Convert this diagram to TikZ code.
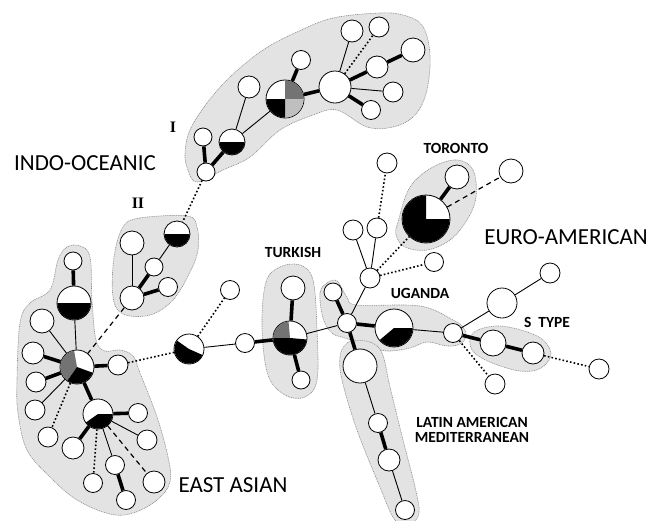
\documentclass[tikz,border=0pt]{standalone}
\usepackage{fontspec}
\setmainfont{Carlito}
\newfontfamily\romana{Liberation Serif}
\tikzset{
  hap/.style={circle, draw=black, fill=white, line width=0.8pt, inner sep=0pt},
  enlace/.style={line width=0.9pt},
  grueso/.style={line width=3.6pt},
  punteado/.style={line width=1.6pt, dash pattern=on 1.6pt off 2.2pt},
  discont/.style={line width=1.2pt, dash pattern=on 5pt off 4pt},
  zona/.style={fill=black!11, draw=black!45, line width=0.6pt,
    dash pattern=on 1pt off 0.8pt},
  grupo/.style={font=\fontsize{23}{23}\selectfont},
  etiq/.style={font=\bfseries\fontsize{15.5}{15.5}\selectfont, align=center},
  numero/.style={font=\romana\bfseries\fontsize{16}{16}\selectfont}
}
% sector de un haplotipo: nodo, angulo inicial, angulo final, radio, color
\newcommand{\sector}[5]{\fill[#5] (#1.center) -- ++(#2:#4)
  arc[start angle=#2, end angle=#3, radius=#4] -- cycle;}

\begin{document}
\begin{tikzpicture}[x=1pt, y=-1pt]
  \useasboundingbox (0,0) rectangle (653,520);
  % zonas grises
  \draw[zona] plot[smooth cycle, tension=0.6] coordinates {(188,170) (197,182)
    (223,170) (250,157) (280,130) (313,115) (337,110) (367,127) (393,127)
    (413,117) (425,97) (430,67) (428,40) (420,23) (403,15) (380,13) (333,18)
    (297,32) (263,50) (230,77) (207,103) (190,130) (185,153)};
  \draw[zona] plot[smooth cycle, tension=0.6] coordinates {(123,227) (140,218)
    (187,216) (197,227) (198,250) (190,272) (173,300) (150,315) (123,314)
    (113,297) (114,257)};
  \draw[zona] plot[smooth cycle, tension=0.6] coordinates {(67,247) (80,246)
    (90,257) (92,300) (96,340) (105,351) (120,350) (133,356) (140,373)
    (157,417) (168,457) (170,482) (157,500) (133,513) (110,514) (77,500)
    (50,477) (27,450) (18,413) (17,380) (20,323) (30,303) (50,290) (58,260)};
  \draw[zona] plot[smooth cycle, tension=0.6] coordinates {(262,327) (266,282)
    (280,267) (300,265) (313,280) (317,330) (317,380) (305,397) (285,395)
    (268,375)};
  \draw[zona] plot[smooth cycle, tension=0.6] coordinates {(398,222) (410,187)
    (433,167) (457,160) (473,170) (476,197) (467,220) (450,240) (427,250)
    (405,247) (396,235)};
  \draw[zona] plot[smooth cycle, tension=0.6] coordinates {(473,333) (500,326)
    (537,336) (551,353) (541,368) (520,371) (490,362) (472,350)};
  \draw[zona] plot[smooth cycle, tension=0.6] coordinates {(320,293) (327,283)
    (337,281) (347,297) (357,305) (420,306) (453,320) (463,327) (466,336)
    (460,344) (447,346) (427,342) (410,348) (387,351) (370,346) (345,338)
    (332,333) (323,318)};
  \draw[zona] plot[smooth cycle, tension=0.6] coordinates {(345,345) (353,341)
    (370,342) (382,353) (390,387) (403,440) (415,487) (419,513) (410,524)
    (395,520) (380,487) (357,430) (342,380) (340,357)};

  % grupo I
  \node[hap, minimum size=32] (hubI) at (335,87) {};
  \node[hap, minimum size=22] (nI1) at (352,31) {};
  \node[hap, minimum size=20] (nI2) at (379,27) {};
  \node[hap, minimum size=22] (nI3) at (377,67) {};
  \node[hap, minimum size=24] (nI4) at (413,50) {};
  \node[hap, minimum size=20] (nI5) at (393,92) {};
  \node[hap, minimum size=19] (nI6) at (371,110) {};
  \node[hap, minimum size=38] (pieI) at (285,99) {};
  \node[hap, minimum size=19] (nI7) at (301,60) {};
  \node[hap, minimum size=26] (halfI) at (232,142) {};
  \node[hap, minimum size=22] (nI8) at (249,87) {};
  \node[hap, minimum size=18] (nI9) at (203,137) {};
  \node[hap, minimum size=18] (nI10) at (206,172) {};
  % grupo II
  \node[hap, minimum size=26] (halfII) at (177,234) {};
  \node[hap, minimum size=24] (nII1) at (132,243) {};
  \node[hap, minimum size=18] (nII2) at (154,267) {};
  \node[hap, minimum size=19] (nII3) at (168,287) {};
  \node[hap, minimum size=24] (nII4) at (132,298) {};
  % asia oriental
  \node[hap, minimum size=18] (nEA1) at (73,261) {};
  \node[hap, minimum size=34] (halfEA) at (74,303) {};
  \node[hap, minimum size=34] (hubEA) at (77,367) {};
  \node[hap, minimum size=24] (nEA2) at (42,321) {};
  \node[hap, minimum size=22] (nEA3) at (33,353) {};
  \node[hap, minimum size=20] (nEA4) at (36,382) {};
  \node[hap, minimum size=20] (nEA5) at (35,410) {};
  \node[hap, minimum size=20] (nEA6) at (48,437) {};
  \node[hap, minimum size=20] (nEA7) at (118,365) {};
  \node[hap, minimum size=30] (halfEA2) at (98,414) {};
  \node[hap, minimum size=19] (nEA8) at (138,413) {};
  \node[hap, minimum size=20] (nEA9) at (147,440) {};
  \node[hap, minimum size=22] (nEA10) at (73,448) {};
  \node[hap, minimum size=19] (nEA11) at (115,465) {};
  \node[hap, minimum size=19] (nEA12) at (126,500) {};
  \node[hap, minimum size=19] (nEA13) at (93,483) {};
  \node[hap, minimum size=22] (nEA14) at (154,482) {};
  % centro y turco
  \node[hap, minimum size=30] (pieMid) at (189,349) {};
  \node[hap, minimum size=19] (nMid1) at (230,290) {};
  \node[hap, minimum size=19] (nMid2) at (245,343) {};
  \node[hap, minimum size=34] (pieTur) at (290,338) {};
  \node[hap, minimum size=24] (nTur1) at (293,288) {};
  \node[hap, minimum size=18] (nTur2) at (301,380) {};
  \node[hap, minimum size=19] (hubC) at (347,323) {};
  \node[hap, minimum size=18] (nC1) at (333,292) {};
  % euro-americano y toronto
  \node[hap, minimum size=20] (hubUp) at (370,278) {};
  \node[hap, minimum size=20] (nUp1) at (353,230) {};
  \node[hap, minimum size=20] (nUp2) at (377,228) {};
  \node[hap, minimum size=20] (nUp3) at (387,163) {};
  \node[hap, minimum size=48] (pieTor) at (426,219) {};
  \node[hap, minimum size=24] (nTor1) at (457,177) {};
  \node[hap, minimum size=24] (nTor2) at (511,171) {};
  \node[hap, minimum size=19] (nUp4) at (434,262) {};
  % uganda y tipo S
  \node[hap, minimum size=38] (pieUg) at (394,328) {};
  \node[hap, minimum size=19] (nUg1) at (453,333) {};
  \node[hap, minimum size=26] (nS1) at (493,343) {};
  \node[hap, minimum size=22] (nS2) at (533,353) {};
  \node[hap, minimum size=20] (nS3) at (599,369) {};
  \node[hap, minimum size=20] (nUg2) at (495,384) {};
  \node[hap, minimum size=30] (nS4) at (502,303) {};
  \node[hap, minimum size=20] (nS5) at (550,273) {};
  % latinoamericano
  \node[hap, minimum size=34] (nLA1) at (360,366) {};
  \node[hap, minimum size=19] (nLA2) at (378,423) {};
  \node[hap, minimum size=22] (nLA3) at (389,460) {};
  \node[hap, minimum size=19] (nLA4) at (405,510) {};

  % sectores
  \sector{pieI}{-90}{0}{18.6}{black!55}
  \sector{pieI}{0}{90}{18.6}{black!25}
  \sector{pieI}{90}{180}{18.6}{black}
  \sector{halfI}{0}{180}{12.6}{black}
  \sector{halfII}{0}{180}{12.6}{black}
  \sector{halfEA}{0}{180}{16.6}{black}
  \sector{hubEA}{-235}{-100}{16.6}{black!55}
  \sector{hubEA}{-340}{-235}{16.6}{black}
  \sector{halfEA2}{-360}{-215}{14.6}{black}
  \sector{pieMid}{-336}{-145}{14.6}{black}
  \sector{pieTur}{-180}{-95}{16.6}{black!55}
  \sector{pieTur}{-355}{-180}{16.6}{black}
  \sector{pieTor}{-360}{-90}{23.6}{black}
  \sector{pieUg}{-360}{-220}{18.6}{black}

  % enlaces
  \draw[enlace] (hubI) -- (nI1);
  \draw[punteado] (hubI) -- (nI2);
  \draw[grueso] (hubI) -- (nI3);
  \draw[grueso] (nI3) -- (nI4);
  \draw[enlace] (hubI) -- (nI5);
  \draw[grueso] (hubI) -- (nI6);
  \draw[grueso] (pieI) -- (hubI);
  \draw[grueso] (pieI) -- (nI7);
  \draw[enlace] (pieI) -- (halfI);
  \draw[enlace] (halfI) -- (nI8);
  \draw[grueso] (nI9) -- (nI10);
  \draw[grueso] (nI10) -- (halfI);
  \draw[punteado] (nI10) -- (halfII);
  \draw[enlace] (halfII) -- (nII2);
  \draw[grueso] (nII2) -- (nII4);
  \draw[grueso] (nII3) -- (nII4);
  \draw[enlace] (nII1) -- (nII4);
  \draw[discont] (nII4) -- (hubEA);
  \draw[grueso] (nEA1) -- (halfEA);
  \draw[enlace] (halfEA) -- (hubEA);
  \draw[enlace] (hubEA) -- (nEA2);
  \draw[grueso] (hubEA) -- (nEA3);
  \draw[grueso] (hubEA) -- (nEA4);
  \draw[enlace] (hubEA) -- (nEA5);
  \draw[punteado] (hubEA) -- (nEA6);
  \draw[grueso] (hubEA) -- (nEA7);
  \draw[grueso] (hubEA) -- (halfEA2);
  \draw[grueso] (halfEA2) -- (nEA8);
  \draw[enlace] (halfEA2) -- (nEA9);
  \draw[grueso] (halfEA2) -- (nEA10);
  \draw[enlace] (halfEA2) -- (nEA11);
  \draw[grueso] (nEA11) -- (nEA12);
  \draw[punteado] (halfEA2) -- (nEA13);
  \draw[discont] (halfEA2) -- (nEA14);
  \draw[punteado] (nEA7) -- (pieMid);
  \draw[punteado] (pieMid) -- (nMid1);
  \draw[enlace] (pieMid) -- (nMid2);
  \draw[grueso] (nMid2) -- (pieTur);
  \draw[grueso] (pieTur) -- (nTur1);
  \draw[grueso] (pieTur) -- (nTur2);
  \draw[enlace] (pieTur) -- (hubC);
  \draw[grueso] (hubC) -- (nC1);
  \draw[enlace] (hubC) -- (hubUp);
  \draw[enlace] (hubUp) -- (nUp1);
  \draw[enlace] (hubUp) -- (nUp2);
  \draw[punteado] (nUp2) -- (nUp3);
  \draw[punteado] (hubUp) -- (pieTor);
  \draw[punteado] (hubUp) -- (nUp4);
  \draw[grueso] (pieTor) -- (nTor1);
  \draw[discont] (pieTor) -- (nTor2);
  \draw[grueso] (hubC) -- (pieUg);
  \draw[enlace] (pieUg) -- (nUg1);
  \draw[grueso] (nUg1) -- (nS1);
  \draw[grueso] (nS1) -- (nS2);
  \draw[punteado] (nS2) -- (nS3);
  \draw[punteado] (nUg1) -- (nUg2);
  \draw[enlace] (nUg1) -- (nS4);
  \draw[enlace] (nS4) -- (nS5);
  \draw[grueso] (hubC) -- (nLA1);
  \draw[enlace] (nLA1) -- (nLA2);
  \draw[grueso] (nLA2) -- (nLA3);
  \draw[enlace] (nLA3) -- (nLA4);

  % rotulos
  \node[grupo] (indo) at (85,163) {INDO-OCEANIC};
  \node[grupo] (euro) at (566,237) {EURO-AMERICAN};
  \node[grupo, anchor=west] (asia) at (175,485) {EAST ASIAN};
  \node[numero] (uno) at (173,127) {I};
  \node[numero] (dos) at (138,203) {II};
  \node[etiq] (toronto) at (456,148) {TORONTO};
  \node[etiq] (turco) at (293,252) {TURKISH};
  \node[etiq] (uganda) at (420,293) {UGANDA};
  \node[etiq] (tipos) at (547,322) {S\ \ TYPE};
  \node[etiq] (latino) at (472,430) {LATIN AMERICAN\\MEDITERRANEAN};
\end{tikzpicture}
\end{document}
